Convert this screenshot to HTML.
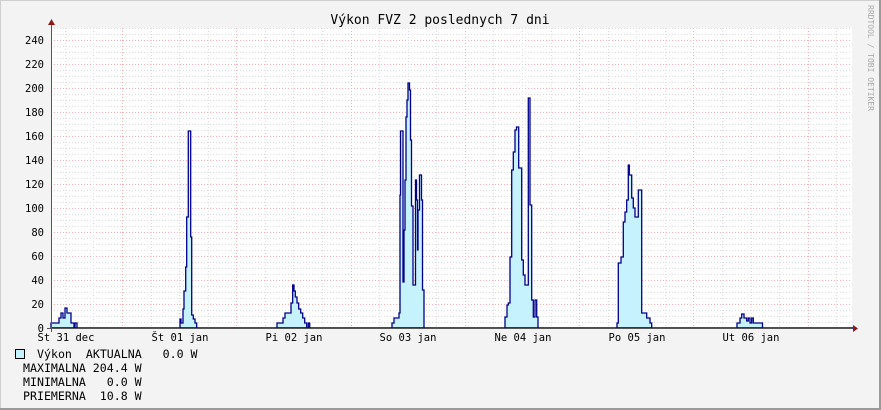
<!DOCTYPE html>
<html><head><meta charset="utf-8"><style>
html,body{margin:0;padding:0;background:#f3f3f3;}
svg{display:block;}
text{font-family:"DejaVu Sans Mono","Liberation Mono",monospace;white-space:pre;}
</style></head><body>
<svg id="s" width="881" height="410" xmlns="http://www.w3.org/2000/svg">
<rect x="0" y="0" width="881" height="410" fill="#f3f3f3"/>
<line x1="0" y1="0.5" x2="881" y2="0.5" stroke="#cfcfcf"/>
<line x1="0.5" y1="0" x2="0.5" y2="410" stroke="#cfcfcf"/>
<line x1="880" y1="0" x2="880" y2="410" stroke="#9a9a9a" stroke-width="2"/>
<line x1="0" y1="409" x2="881" y2="409" stroke="#9a9a9a" stroke-width="2"/>
<rect x="51" y="28" width="801" height="300" fill="#ffffff"/>
<g id="grid"></g>
<g fill="#c6f2fd" stroke="#00008b" stroke-width="1.3">
<path d="M51 328 V323 H57 V323 H59 V318 H61 V313 H63 V318 H65 V308 H67 V313 H71 V323 H74 V328 H75 V323 H77 V328 Z"/>
<path d="M180 328 V319 H181 V323 H183 V309 H184 V291 H185.7 V267 H186.7 V217 H188.3 V131 H190.7 V237 H191.7 V315 H193.3 V319 H195 V323 H196.7 V328 Z"/>
<path d="M277 328 V323 H283 V318 H285 V313 H291 V303 H292.7 V285 H294 V291 H295.3 V297 H297 V303 H298.7 V309 H300.7 V313 H302.7 V318 H304.7 V323 H306.7 V328 H308.3 V323 H309.7 V328 Z"/>
<path d="M392 328 V323 H394 V318 H399 V313 H400 V195 H400.5 V131 H403 V282 H404 V230 H405 V180 H406 V117 H407 V100 H408 V83 H409.5 V90 H410.5 V140 H411.5 V206 H413 V285 H415.5 V180 H416.5 V200 H417.5 V250 H418 V210 H419.5 V175 H421.5 V200 H422.5 V290 H424 V328 Z"/>
<path d="M505 328 V317 H507 V305 H508.3 V303 H510 V257 H511.7 V170 H513.3 V152 H515 V130 H516.5 V127 H518.7 V168 H521.7 V260 H523.3 V275 H525 V285 H528.3 V98 H530 V205 H531.7 V300 H533.3 V317 H535 V300 H536.7 V317 H538 V328 Z"/>
<path d="M617 328 V323 H618.3 V263 H621 V257 H623.3 V222 H625 V212 H626.7 V200 H628.3 V165 H629.3 V175 H631.7 V198 H633.3 V208 H635 V217 H638.3 V190 H641.7 V313 H646.7 V318 H650 V323 H651.7 V328 Z"/>
<path d="M737 328 V323 H740 V318 H741.7 V314 H744 V318 H746.7 V321 H748.3 V318 H750 V323 H751.7 V318 H753.3 V323 H762.5 V328 Z"/>
</g>
<line x1="51" y1="328" x2="855" y2="328" stroke="#00008b" stroke-width="1.5"/>
<line x1="51.5" y1="24" x2="51.5" y2="332" stroke="#555"/>
<line x1="47" y1="328.5" x2="852" y2="328.5" stroke="#555"/>
<polygon points="48,25 55,25 51.5,19" fill="#8b1a1a"/>
<polygon points="853,325 853,332 858,328.5" fill="#8b1a1a"/>
<text x="440" y="24" font-size="13" text-anchor="middle" fill="#000">Výkon FVZ 2 poslednych 7 dni</text>
<g font-size="10.5" fill="#000" text-anchor="end" id="yl"></g>
<g font-size="10.5" fill="#000" text-anchor="middle">
<text x="66" y="341">St 31 dec</text>
<text x="180" y="341">Št 01 jan</text>
<text x="294" y="341">Pi 02 jan</text>
<text x="408" y="341">So 03 jan</text>
<text x="523" y="341">Ne 04 jan</text>
<text x="637" y="341">Po 05 jan</text>
<text x="751" y="341">Ut 06 jan</text>
</g>
<rect x="15.5" y="349.5" width="9" height="9" fill="#c6f2fd" stroke="#000"/>
<g font-size="11.6" fill="#000">
<text x="37" y="358">Výkon  AKTUALNA   0.0 W</text>
<text x="23" y="372">MAXIMALNA 204.4 W</text>
<text x="23" y="386">MINIMALNA   0.0 W</text>
<text x="23" y="400">PRIEMERNA  10.8 W</text>
</g>
<text transform="translate(868,5) rotate(90)" font-size="8" fill="#aaa">RRDTOOL / TOBI OETIKER</text>
</svg>
<script>
var g=document.getElementById('grid'),s='';
for(var y=328;y>=28;y-=6){var maj=((328-y)%24)==0;if(y==328)continue;
s+='<line x1="51" x2="852" y1="'+(y+0.5)+'" y2="'+(y+0.5)+'" stroke="'+(maj?'#f4b4b4':'#dddddd')+'" stroke-dasharray="1,2"/>';}
for(var k=0;k<40;k++){var x=7.7+28.571*k;if(x<=52||x>852)continue;var maj=(k%4)==0;
s+='<line y1="28" y2="328" x1="'+(Math.round(x)+0.5)+'" x2="'+(Math.round(x)+0.5)+'" stroke="'+(maj?'#f4b4b4':'#dddddd')+'" stroke-dasharray="1,2"/>';}
g.innerHTML=s;
var yl=document.getElementById('yl'),t='';
for(var v=0;v<=240;v+=20){t+='<text x="44" y="'+(328-v*1.2+4)+'">'+v+'</text>';}
yl.innerHTML=t;
</script>
</body></html>
